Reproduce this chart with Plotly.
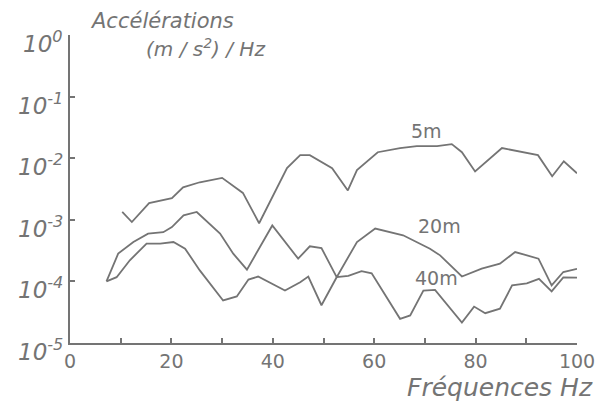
import plotly.graph_objects as go

# Data (frequency Hz, acceleration (m/s^2)/Hz)
f_5m = [10.3, 12.2, 15.6, 20.1, 22.3, 25.6, 30.0, 34.1, 37.3, 42.8, 45.4, 47.3, 51.7, 54.8,
        56.6, 60.7, 65.1, 68.4, 72.4, 75.3, 77.3, 79.9, 85.2, 88.2, 92.3, 95.1, 97.4, 100.0]
a_5m = [1.34e-3, 9.2e-4, 1.87e-3, 2.24e-3, 3.37e-3, 4.07e-3, 4.8e-3, 2.73e-3, 8.8e-4, 6.9e-3,
        1.12e-2, 1.12e-2, 6.9e-3, 3.0e-3, 6.4e-3, 1.25e-2, 1.46e-2, 1.57e-2, 1.57e-2, 1.69e-2,
        1.25e-2, 6.1e-3, 1.46e-2, 1.3e-2, 1.12e-2, 5.1e-3, 8.9e-3, 5.7e-3]

f_20m = [7.2, 9.5, 12.5, 15.4, 18.4, 20.1, 22.4, 25.0, 29.6, 32.2, 34.9, 39.9, 45.0, 47.3,
         49.6, 52.6, 56.6, 60.2, 65.7, 71.0, 73.0, 77.3, 81.2, 84.8, 87.8, 92.4, 95.0, 97.3, 100.0]
a_20m = [1.0e-4, 2.82e-4, 4.36e-4, 5.97e-4, 6.3e-4, 7.6e-4, 1.18e-3, 1.34e-3, 5.97e-4, 2.82e-4,
         1.55e-4, 8.1e-4, 2.34e-4, 3.71e-4, 3.48e-4, 1.17e-4, 4.36e-4, 7.2e-4, 5.6e-4, 3.4e-4,
         2.65e-4, 1.2e-4, 1.61e-4, 1.94e-4, 3.0e-4, 2.34e-4, 8.6e-5, 1.42e-4, 1.6e-4]

f_40m = [7.2, 9.2, 11.8, 15.1, 17.8, 20.4, 22.7, 25.6, 30.2, 32.9, 35.2, 37.1, 42.4, 45.4,
         47.0, 49.6, 52.6, 54.9, 57.5, 59.5, 65.1, 67.1, 69.7, 72.0, 77.3, 79.7, 81.9, 84.8,
         87.2, 90.1, 92.5, 95.0, 97.3, 100.0]
a_40m = [1.0e-4, 1.17e-4, 2.2e-4, 4.1e-4, 4.1e-4, 4.36e-4, 3.4e-4, 1.51e-4, 4.9e-5, 5.7e-5,
         1.07e-4, 1.2e-4, 7.1e-5, 9.7e-5, 1.2e-4, 4.1e-5, 1.17e-4, 1.23e-4, 1.47e-4, 1.35e-4,
         2.47e-5, 2.8e-5, 7.1e-5, 7.3e-5, 2.15e-5, 3.9e-5, 3.05e-5, 3.6e-5, 8.6e-5, 9.3e-5,
         1.1e-4, 6.9e-5, 1.16e-4, 1.15e-4]

series_names = ["5 m", "20 m", "40 m"]
x_tickvals = [0, 10, 20, 30, 40, 50, 60, 70, 80, 90, 100]
x_ticktext = ["0", "", "20", "", "40", "", "60", "", "80", "", "100"]
y_exponents = [0, -1, -2, -3, -4, -5]
y_tickvals = [10.0 ** e for e in y_exponents]

INK = "#747474"
FONT = "DejaVu Sans"

fig = go.Figure()
for name, fx, ay in zip(series_names, [f_5m, f_20m, f_40m], [a_5m, a_20m, a_40m]):
    fig.add_trace(go.Scatter(x=fx, y=ay, mode="lines", name=name,
                             line=dict(color=INK, width=1.8), showlegend=False))

fig.update_layout(
    width=609, height=403,
    margin=dict(l=70, r=32, t=35, b=60),
    paper_bgcolor="white", plot_bgcolor="white",
    font=dict(family=FONT, color=INK),
    xaxis=dict(range=[0, 100], tickvals=x_tickvals, ticktext=x_ticktext,
               showgrid=False, zeroline=False, showline=True, linecolor=INK, linewidth=2,
               ticks="inside", ticklen=5, tickwidth=2, tickcolor=INK,
               tickfont=dict(size=19, color=INK, family=FONT)),
    yaxis=dict(type="log", range=[-5, 0], tickvals=y_tickvals,
               ticktext=["" for _ in y_tickvals],
               showgrid=False, zeroline=False, showline=True, linecolor=INK, linewidth=2,
               ticks="inside", ticklen=5, tickwidth=2, tickcolor=INK),
)

# y tick labels (handwritten style sits slightly below each tick)
for e in y_exponents:
    fig.add_annotation(xref="paper", x=0, y=e, xanchor="right", yanchor="middle",
                       xshift=-5, yshift=-7, showarrow=False,
                       text="<i>10<sup>%d</sup></i>" % e,
                       font=dict(size=23, color=INK, family=FONT))

# curve labels
labels = [("5m", 70.4, -1.553), ("20m", 72.8, -3.107), ("40m", 72.2, -3.948)]
for txt, lx, ly in labels:
    fig.add_annotation(x=lx, y=ly, text=txt, showarrow=False, xanchor="center", yanchor="middle",
                       font=dict(size=19, color=INK, family=FONT))

fig.add_annotation(xref="paper", yref="paper", x=0.181, y=1.045, xanchor="center", yanchor="middle",
                   text="<i>Accélérations</i>",
                   showarrow=False, font=dict(size=21, color=INK, family=FONT))
fig.add_annotation(xref="paper", yref="paper", x=0.268, y=0.958, xanchor="center", yanchor="middle",
                   text="<i>(m / s<sup>2</sup>) / Hz</i>",
                   showarrow=False, font=dict(size=20, color=INK, family=FONT))
fig.add_annotation(xref="paper", yref="paper", x=0.848, y=-0.143, xanchor="center", yanchor="middle",
                   text="<i>Fréquences Hz</i>",
                   showarrow=False, font=dict(size=25, color=INK, family=FONT))

fig.write_html("out.html")
